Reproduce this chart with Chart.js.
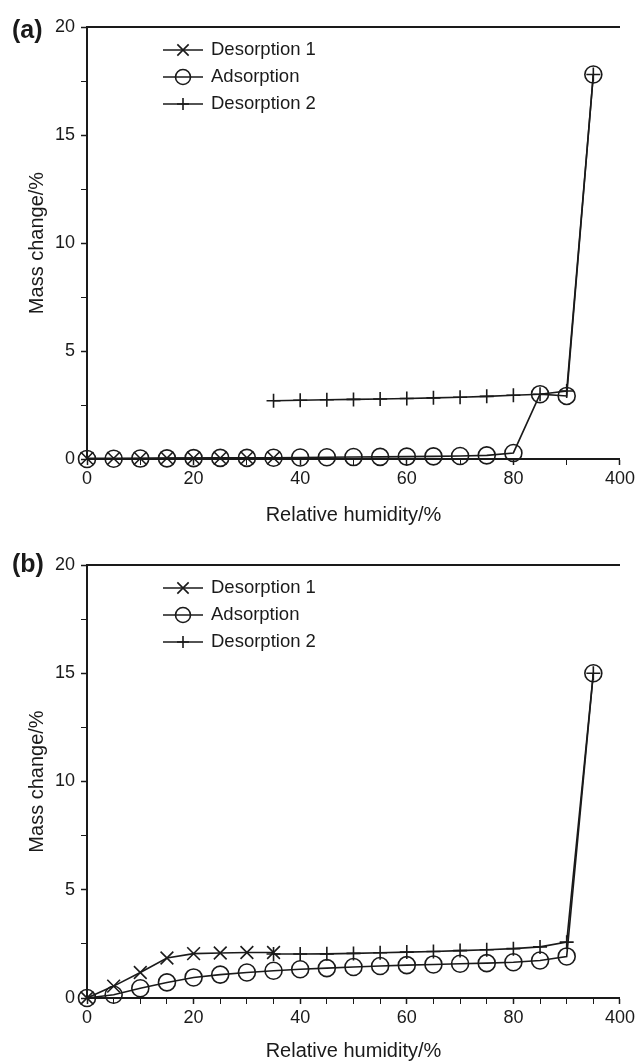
<!DOCTYPE html>
<html lang="en">
  <head>
    <meta charset="UTF-8" />
    <meta name="viewport" content="width=device-width, initial-scale=1.0" />
    <title>Mass change vs relative humidity</title>
    <style>
      body {
        margin: 0;
        background: #fff;
        font-family: "Liberation Sans", Arial, sans-serif;
        color: #1a1a1a;
      }
      .panel {
        position: absolute;
        left: 0;
        width: 638px;
      }
      #panelA {
        top: 0;
        height: 531px;
      }
      #panelB {
        top: 531px;
        height: 532px;
      }
      .tag {
        position: absolute;
        left: 12px;
        font-weight: bold;
        font-size: 25px;
        line-height: 25px;
      }
    </style>
  </head>
  <body>
    <div class="panel" id="panelA"><canvas id="chartA"></canvas></div>
    <div class="panel" id="panelB"><canvas id="chartB"></canvas></div>
    <div class="tag" style="top: 17px">(a)</div>
    <div class="tag" style="top: 551px">(b)</div>

    <script src="https://cdn.jsdelivr.net/npm/chart.js"></script>
    <script>
      // relative humidity steps (%)
      const rhDes1 = [0, 5, 10, 15, 20, 25, 30, 35];
      const rhAds = [0, 5, 10, 15, 20, 25, 30, 35, 40, 45, 50, 55, 60, 65, 70, 75, 80, 85, 90, 95];
      const rhDes2 = [35, 40, 45, 50, 55, 60, 65, 70, 75, 80, 85, 90, 95];

      // panel (a) mass change (%)
      const aDes1 = [0.03, 0.03, 0.03, 0.04, 0.04, 0.04, 0.05, 0.05];
      const aAds = [0.0, 0.01, 0.02, 0.03, 0.04, 0.05, 0.05, 0.06, 0.07, 0.08, 0.09, 0.1, 0.11, 0.12, 0.14, 0.17, 0.28, 3.0, 2.92, 17.8];
      const aDes2 = [2.7, 2.72, 2.74, 2.76, 2.78, 2.8, 2.83, 2.86, 2.9, 2.95, 3.0, 3.15, 17.8];

      // panel (b) mass change (%)
      const bDes1 = [0.0, 0.55, 1.18, 1.85, 2.05, 2.08, 2.1, 2.1];
      const bAds = [0.0, 0.15, 0.45, 0.72, 0.95, 1.08, 1.18, 1.26, 1.33, 1.38, 1.43, 1.48, 1.52, 1.55, 1.58, 1.61, 1.65, 1.73, 1.92, 15.0];
      const bDes2 = [2.03, 2.03, 2.04, 2.06, 2.09, 2.12, 2.15, 2.19, 2.23, 2.28, 2.36, 2.58, 15.0];

      const seriesNames = ["Desorption 1", "Adsorption", "Desorption 2"];
      const xTickLabels = { 0: "0", 20: "20", 40: "40", 60: "60", 80: "80", 100: "400" };
      const yTickLabels = { 0: "0", 5: "5", 10: "10", 15: "15", 20: "20" };

      const ink = "#1a1a1a";
      Chart.defaults.font.family = '"Liberation Sans", Arial, sans-serif';
      Chart.defaults.font.size = 18;
      Chart.defaults.color = ink;

      const markers = [
        { pointStyle: "crossRot", pointRadius: 9 },
        { pointStyle: "circle", pointRadius: 8.5 },
        { pointStyle: "cross", pointRadius: 7 },
      ];

      function series(i, xs, ys) {
        return {
          label: seriesNames[i],
          data: xs.map((x, k) => ({ x: x, y: ys[k] })),
          xAxisID: "x",
          borderColor: ink,
          borderWidth: 1.6,
          pointStyle: markers[i].pointStyle,
          pointRadius: markers[i].pointRadius,
          pointBorderWidth: 1.6,
          pointBorderColor: ink,
          pointBackgroundColor: "rgba(0,0,0,0)",
          tension: 0,
          clip: false,
        };
      }

      // legend drawn inside the plot, line + marker + name
      const insetLegend = {
        id: "insetLegend",
        afterDraw(chart) {
          const { ctx, chartArea } = chart;
          ctx.save();
          chart.data.datasets.forEach((ds, i) => {
            const y = chartArea.top + 23 + i * 27;
            const x0 = chartArea.left + 76;
            ctx.strokeStyle = ink;
            ctx.fillStyle = "rgba(0,0,0,0)";
            ctx.lineWidth = 1.6;
            ctx.beginPath();
            ctx.moveTo(x0, y);
            ctx.lineTo(x0 + 40, y);
            ctx.stroke();
            Chart.helpers.drawPoint(
              ctx,
              { pointStyle: ds.pointStyle, radius: ds.pointRadius - 1, borderWidth: 1.6, rotation: 0 },
              x0 + 20,
              y
            );
            ctx.fillStyle = ink;
            ctx.font = '18.5px "Liberation Sans", Arial, sans-serif';
            ctx.textBaseline = "middle";
            ctx.textAlign = "left";
            ctx.fillText(ds.label, x0 + 48, y);
          });
          ctx.restore();
        },
      };

      function makeChart(id, datasets, topPad, xHeight, titlePad, xStep) {
        return new Chart(document.getElementById(id), {
          type: "line",
          data: { datasets: datasets },
          options: {
            responsive: true,
            maintainAspectRatio: false,
            animation: false,
            layout: { padding: { top: topPad, right: 16, bottom: 0, left: 0 } },
            plugins: { legend: { display: false }, tooltip: { enabled: false } },
            scales: {
              x: {
                type: "linear",
                position: "bottom",
                min: 0,
                max: 100,
                afterFit: (s) => { s.height = xHeight; },
                ticks: {
                  stepSize: xStep,
                  autoSkip: false,
                  maxRotation: 0,
                  padding: 3,
                  callback: (v) => (v in xTickLabels ? xTickLabels[v] : ""),
                },
                grid: {
                  drawOnChartArea: false,
                  drawTicks: true,
                  tickLength: 6,
                  color: ink,
                  tickWidth: (c) => (c.tick && c.tick.value % 20 === 0 ? 1.5 : 1),
                },
                border: { display: true, color: ink, width: 2 },
                title: {
                  display: true,
                  text: "Relative humidity/%",
                  font: { size: 20 },
                  padding: { top: 0, bottom: titlePad },
                },
              },
              xTop: {
                type: "linear",
                position: "top",
                min: 0,
                max: 100,
                afterFit: (s) => { s.height = 0; },
                ticks: { display: false },
                grid: { display: false, drawTicks: false },
                border: { display: true, color: ink, width: 2 },
              },
              y: {
                type: "linear",
                min: 0,
                max: 20,
                afterFit: (s) => { s.width = 87; },
                ticks: {
                  stepSize: 2.5,
                  autoSkip: false,
                  padding: 6,
                  callback: (v) => (v in yTickLabels ? yTickLabels[v] : ""),
                },
                grid: {
                  drawOnChartArea: false,
                  drawTicks: true,
                  tickLength: 6,
                  color: ink,
                  tickWidth: (c) => (c.tick && c.tick.value % 5 === 0 ? 1.5 : 1),
                },
                border: { display: true, color: ink, width: 2 },
                title: {
                  display: true,
                  text: "Mass change/%",
                  font: { size: 20 },
                  padding: { top: 25, bottom: 0 },
                },
              },
            },
          },
          plugins: [insetLegend],
        });
      }

      makeChart(
        "chartA",
        [series(0, rhDes1, aDes1), series(1, rhAds, aAds), series(2, rhDes2, aDes2)],
        27, 72, 4, 10
      );
      makeChart(
        "chartB",
        [series(0, rhDes1, bDes1), series(1, rhAds, bAds), series(2, rhDes2, bDes2)],
        34, 65, 0, 5
      );
    </script>
  </body>
</html>
